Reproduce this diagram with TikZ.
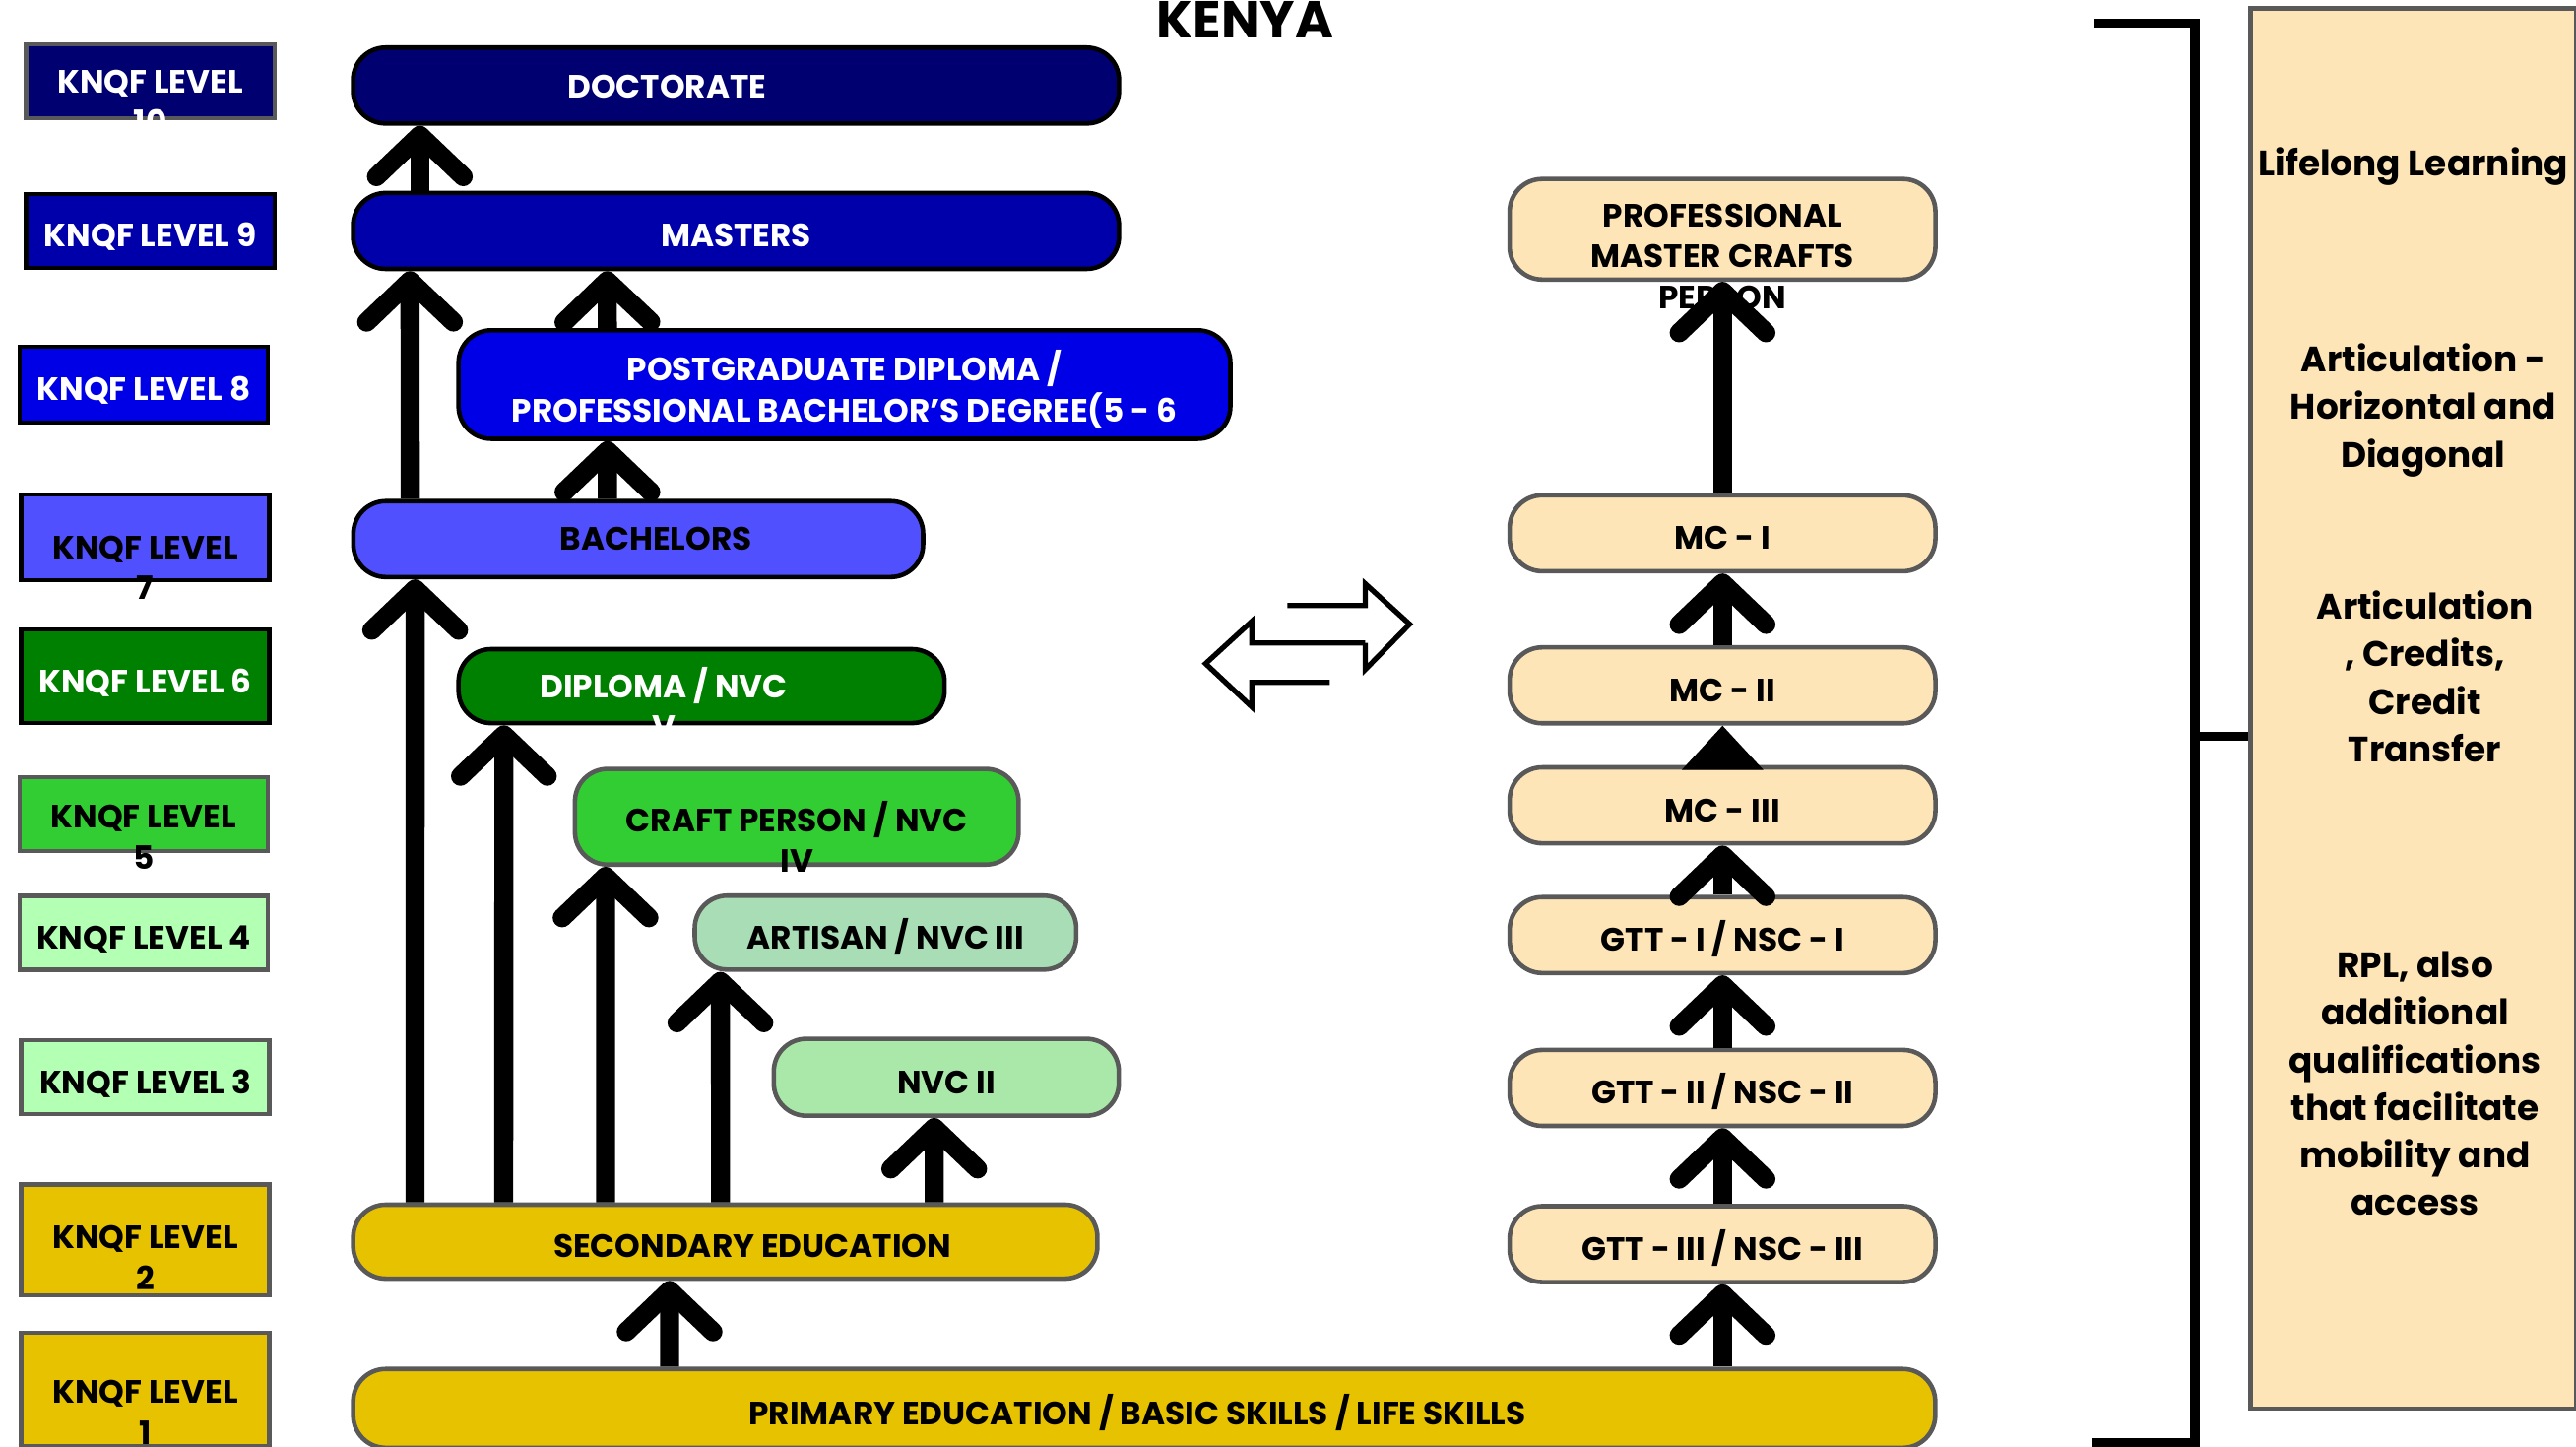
\documentclass[tikz,border=0pt]{standalone}
\usepackage{fontspec}
\setmainfont{Poppins}
\usetikzlibrary{arrows.meta}

\definecolor{cten}{RGB}{0,0,112}
\definecolor{cnine}{RGB}{0,0,170}
\definecolor{ceight}{RGB}{0,0,230}
\definecolor{cseven}{RGB}{80,80,255}
\definecolor{csix}{RGB}{0,128,0}
\definecolor{cfive}{RGB}{50,205,50}
\definecolor{cfour}{RGB}{179,255,179}
\definecolor{cart}{RGB}{168,221,181}
\definecolor{cnvc}{RGB}{170,232,170}
\definecolor{cgold}{RGB}{230,194,0}
\definecolor{cwheat}{RGB}{253,229,184}
\definecolor{edge}{RGB}{89,89,89}

\newcommand{\lvlfont}{\fontsize{9.3}{11.8}\selectfont\bfseries}
\newcommand{\panelfont}{\fontsize{10.2}{13.7}\selectfont\bfseries}
% text that runs out of its box: x offset, baseline offset, lines
\newcommand{\ovtext}[3]{\raisebox{#2}[0pt][0pt]{\makebox[0pt]{\hspace*{#1}\hspace*{#1}\begin{tabular}[t]{@{}c@{}}#3\end{tabular}}}}

\tikzset{
    lvl/.style={draw, rectangle, minimum width=2.52cm, minimum height=0.75cm, line width=1.3pt, inner sep=0pt, font=\lvlfont},
    pill/.style={draw, rectangle, rounded corners=0.33cm, minimum height=0.77cm, line width=1.3pt, inner sep=0pt, font=\lvlfont},
    plain/.style={text height=0.33cm, text depth=0pt},
    mc/.style={pill, plain, draw=edge, fill=cwheat, minimum width=4.32cm},
    note/.style={align=center, font=\panelfont},
    up/.style={line width=5.5pt, -{Straight Barb[length=0.42cm,width=0.88cm,round]}},
    upshort/.style={line width=5.5pt, -{Triangle[length=0.45cm,width=0.8cm]}},
}

\begin{document}
\begin{tikzpicture}
    \useasboundingbox (0,0) rectangle (26.133,-14.667);

    \node[font=\fontsize{15}{18}\selectfont\bfseries] at (12.633,-0.2) (title) {KENYA};

    % levels
    \node[lvl, fill=cten, draw=edge, text=white] at (1.525,-0.825) (L10) {\ovtext{0pt}{-0.115cm}{KNQF LEVEL\\10}};
    \node[lvl, plain, fill=cnine, text=white] at (1.525,-2.342) (L9) {KNQF LEVEL 9};
    \node[lvl, plain, fill=ceight, text=white, minimum height=0.77cm] at (1.458,-3.9) (L8) {KNQF LEVEL 8};
    \node[lvl, fill=cseven, minimum height=0.87cm] at (1.475,-5.45) (L7) {\ovtext{0pt}{-0.215cm}{KNQF LEVEL\\7}};
    \node[lvl, plain, fill=csix, text=white, minimum height=0.95cm] at (1.475,-6.858) (L6) {KNQF LEVEL 6};
    \node[lvl, fill=cfive, draw=edge] at (1.458,-8.258) (L5) {\ovtext{0pt}{-0.14cm}{KNQF LEVEL\\5}};
    \node[lvl, plain, fill=cfour, draw=edge] at (1.458,-9.458) (L4) {KNQF LEVEL 4};
    \node[lvl, plain, fill=cfour, draw=edge] at (1.475,-10.925) (L3) {KNQF LEVEL 3};
    \node[lvl, fill=cgold, draw=edge, minimum height=1.12cm] at (1.475,-12.575) (L2) {\ovtext{0pt}{-0.09cm}{KNQF LEVEL\\2}};
    \node[lvl, fill=cgold, draw=edge, minimum height=1.15cm] at (1.475,-14.092) (L1) {\ovtext{0pt}{-0.14cm}{KNQF LEVEL\\1}};

    % academic and tvet track
    \node[pill, fill=cten, text=white, minimum width=7.77cm] at (7.467,-0.867) (DOC) {\ovtext{-0.7cm}{-0.13cm}{DOCTORATE}};
    \node[pill, plain, fill=cnine, text=white, minimum width=7.77cm] at (7.467,-2.342) (MAS) {MASTERS};
    \node[pill, fill=ceight, text=white, minimum width=7.83cm, minimum height=1.1cm] at (8.567,-3.9) (PG) {\ovtext{0pt}{0.04cm}{POSTGRADUATE DIPLOMA /\\PROFESSIONAL BACHELOR’S DEGREE(5 - 6}};
    \node[pill, fill=cseven, minimum width=5.78cm] at (6.475,-5.467) (BA) {\ovtext{0.18cm}{-0.115cm}{BACHELORS}};
    \node[pill, fill=csix, text=white, minimum width=4.93cm, minimum height=0.75cm] at (7.117,-6.958) (DIP) {\ovtext{-0.383cm}{-0.115cm}{DIPLOMA / NVC\\V}};
    \node[pill, fill=cfive, draw=edge, minimum width=4.5cm, minimum height=0.97cm] at (8.083,-8.283) (CR) {\ovtext{0pt}{-0.15cm}{CRAFT PERSON / NVC\\IV}};
    \node[pill, plain, fill=cart, draw=edge, minimum width=3.87cm, minimum height=0.75cm] at (8.983,-9.458) (AR) {ARTISAN / NVC III};
    \node[pill, plain, fill=cnvc, draw=edge, minimum width=3.5cm, minimum height=0.78cm] at (9.6,-10.925) (NV) {NVC II};
    \node[pill, fill=cgold, draw=edge, minimum width=7.55cm, minimum height=0.75cm] at (7.358,-12.592) (SE) {\ovtext{0.275cm}{-0.155cm}{SECONDARY EDUCATION}};
    \node[pill, fill=cgold, draw=edge, minimum width=16.05cm, minimum height=0.8cm] at (11.608,-14.283) (PR) {\ovtext{-0.07cm}{-0.165cm}{PRIMARY EDUCATION / BASIC SKILLS / LIFE SKILLS}};

    % master craft person track
    \node[pill, draw=edge, fill=cwheat, minimum width=4.32cm, minimum height=1.02cm] at (17.475,-2.325) (PMC) {\ovtext{0pt}{0.027cm}{PROFESSIONAL\\MASTER CRAFTS\\PERSON}};
    \node[mc] at (17.475,-5.408) (MC1) {MC - I};
    \node[mc] at (17.475,-6.95) (MC2) {MC - II};
    \node[mc] at (17.475,-8.167) (MC3) {MC - III};
    \node[mc] at (17.475,-9.483) (G1) {GTT - I / NSC - I};
    \node[mc] at (17.475,-11.033) (G2) {GTT - II / NSC - II};
    \node[mc] at (17.475,-12.617) (G3) {GTT - III / NSC - III};

    % side panel
    \node[draw=edge, fill=cwheat, line width=1.3pt, minimum width=3.3cm, minimum height=14.2cm] at (24.483,-7.183) (LLL) {};
    \node[note] at (24.483,-1.69) (T1) {Lifelong Learning};
    \node[note] at (24.583,-4.16) (T2) {Articulation -\\Horizontal and\\Diagonal};
    \node[note] at (24.6,-6.86) (T3) {Articulation\\, Credits,\\Credit\\Transfer};
    \node[note] at (24.5,-10.99) (T4) {RPL, also\\additional\\qualifications\\that facilitate\\mobility and\\access};

    % bracket
    \draw[line width=2.6pt] (21.25,-0.233) -- (22.267,-0.233) -- (22.267,-14.633) -- (21.22,-14.633);
    \draw[line width=2.6pt] (22.267,-7.467) -- (LLL.west |- 0,-7.467);

    % two way arrow
    \draw[line width=1.5pt] (13.85,-6.52) -- (12.70,-6.52) -- (12.70,-6.30) -- (12.23,-6.73) -- (12.70,-7.17) -- (12.70,-6.92) -- (13.49,-6.92);
    \draw[line width=1.5pt] (13.06,-6.14) -- (13.85,-6.14) -- (13.85,-5.92) -- (14.30,-6.33) -- (13.85,-6.79) -- (13.85,-6.52);

    % progression
    \draw[up] ([xshift=0.7cm]MAS.north west) -- ([xshift=0.7cm]DOC.south west);
    \draw[up] ([xshift=0.6cm]BA.north west) -- ([xshift=0.6cm]MAS.south west);
    \draw[up] ([xshift=1.533cm]PG.north west) -- ([xshift=2.6cm]MAS.south west);
    \draw[up] ([xshift=2.6cm]BA.north west) -- ([xshift=1.533cm]PG.south west);
    \draw[up] ([xshift=0.65cm]SE.north west) -- ([xshift=0.65cm]BA.south west);
    \draw[up] ([xshift=1.55cm]SE.north west) -- ([xshift=0.483cm]DIP.south west);
    \draw[up] ([xshift=2.583cm]SE.north west) -- ([xshift=0.333cm]CR.south west);
    \draw[up] ([xshift=3.75cm]SE.north west) -- ([xshift=0.283cm]AR.south west);
    \draw[up] ([xshift=5.917cm]SE.north west) -- ([xshift=1.65cm]NV.south west);
    \draw[up] ([xshift=3.233cm]PR.north west) -- ([xshift=3.233cm]SE.south west);
    \draw[up] (G3.south |- PR.north) -- (G3.south);
    \draw[up] (G3.north) -- (G2.south);
    \draw[up] (G2.north) -- (G1.south);
    \draw[up] (G1.north) -- (MC3.south);
    \draw[upshort] (MC3.north) -- (MC2.south);
    \draw[up] (MC2.north) -- (MC1.south);
    \draw[up] (MC1.north) -- (PMC.south);

\end{tikzpicture}
\end{document}
